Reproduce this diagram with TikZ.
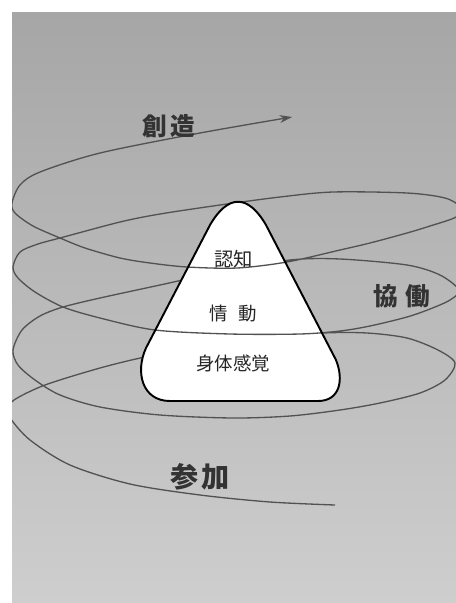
\documentclass[tikz,border=0pt]{standalone}
\usepackage{fontspec}
\newfontfamily\cjk{Noto Sans CJK JP}
\usetikzlibrary{arrows.meta}
\begin{document}
\begin{tikzpicture}[x=0.02cm,y=-0.02cm,
  spiral/.style={draw=black!68, line width=0.75pt},
  tri/.style={draw=black, line width=1.1pt},
  biglabel/.style={font=\cjk\bfseries, text=black!80, inner sep=0pt},
  innerlabel/.style={font=\cjk, text=black!85, inner sep=0pt}]
\useasboundingbox (0,0) rectangle (456,603);
\fill[white] (0,0) rectangle (456,603);
\shade[top color={rgb,255:red,166;green,166;blue,166}, bottom color={rgb,255:red,206;green,206;blue,206}] (12,12) rectangle (456,603);
\def\tripath{(170,401) -- (318,401) .. controls (340,401) and (344,380) .. (336,360) -- (266,225) .. controls (248,194) and (228,194) .. (210,225) -- (146,348) .. controls (135,372) and (142,401) .. (170,401) -- cycle}
% spiral
\begin{scope}
\clip (12,12) rectangle (456,603);
\draw[spiral, -{Stealth[length=7pt,width=4.5pt]}] plot[smooth] coordinates {
(335,505) (270,502) (200,495) (130,484) (70,465) (30,440) (10,418) (8,410)
(14,400) (45,385) (100,368) (145,357) (200,347) (260,338) (323,333) (367,333)
(407,338) (438,350) (455,363) (445,380) (420,393) (380,403) (340,410) (290,416)
(233,418) (160,415) (100,407) (60,395) (35,380) (18,365) (13,350) (22,330)
(40,316) (63,307) (100,298) (160,285) (220,272) (290,260) (340,259) (407,265)
(440,275) (459,290) (450,300) (430,309) (407,317) (370,326) (340,331) (300,334)
(230,334) (155,330) (100,318) (63,307) (35,292) (18,278) (13,267) (20,252)
(38,244) (60,238) (120,222) (160,214) (220,205) (280,197) (333,192) (407,193)
(445,198) (460,207) (456,217) (430,226) (407,233) (370,243) (340,250) (287,262)
(237,268) (187,267) (150,263) (120,258) (85,248) (60,238) (33,226) (15,213)
(12,203) (20,185) (40,172) (100,153) (200,133) (292,117)};
\end{scope}
% triangle
\node[name=tri, coordinate] at (236,300) {};
\fill[white] \tripath;
\begin{scope}
\clip \tripath;
\draw[spiral] plot[smooth] coordinates {(456,217) (430,226) (407,233) (370,243) (340,250) (287,262)
(237,268) (187,267) (150,263) (120,258) (85,248) (60,238)};
\draw[spiral] plot[smooth] coordinates {(450,300) (430,309) (407,317) (370,326) (340,331) (300,334)
(230,334) (155,330) (100,318) (63,307) (35,292)};
\end{scope}
\draw[tri] \tripath;
% labels
\node[biglabel, font=\cjk\bfseries\fontsize{14pt}{14pt}\selectfont] (sozo) at (169,126) {創\hspace{2pt}造};
\node[biglabel, font=\cjk\bfseries\fontsize{14pt}{14pt}\selectfont] (kyodo) at (402,296) {協\hspace{4pt}働};
\node[biglabel, font=\cjk\bfseries\fontsize{16pt}{16pt}\selectfont] (sanka) at (200,477) {参\hspace{2pt}加};
\node[innerlabel, font=\cjk\fontsize{11pt}{11pt}\selectfont] (ninchi) at (234,259) {認知};
\node[innerlabel, font=\cjk\fontsize{10.5pt}{10.5pt}\selectfont] (jodo) at (233,314) {情\hspace{6pt}動};
\node[innerlabel, font=\cjk\fontsize{10.5pt}{10.5pt}\selectfont] (shintai) at (233,363) {身体感覚};
\end{tikzpicture}
\end{document}
